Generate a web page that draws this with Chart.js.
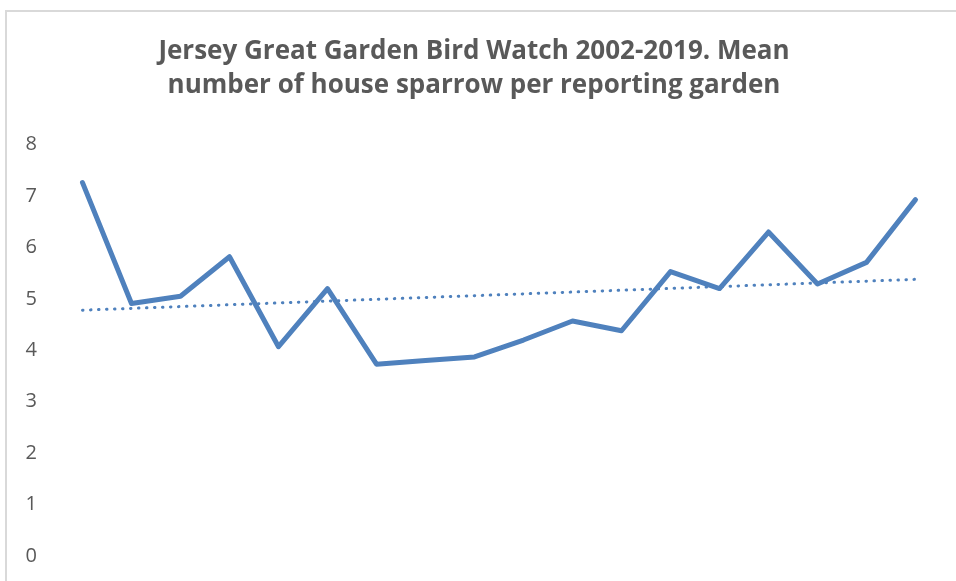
<!DOCTYPE html>
<html>
<head>
<meta charset="utf-8">
<script src="https://cdn.jsdelivr.net/npm/chart.js@4/dist/chart.umd.min.js"></script>
<style>
  html, body { margin: 0; padding: 0; background: #fff; overflow: hidden; }
  #frame {
    position: absolute; left: 5px; top: 10px; width: 1000px; height: 700px;
    border-left: 2px solid #d9d9d9; border-top: 2px solid #d9d9d9;
  }
  #wrap { position: absolute; left: 0; top: 0; width: 956px; height: 581px; }
</style>
</head>
<body>
<div id="frame"></div>
<div id="wrap"><canvas id="chart"></canvas></div>
<script>
// 2002-2019 のカテゴリ
const years = ['2002','2003','2004','2005','2006','2007','2008','2009','2010',
               '2011','2012','2013','2014','2015','2016','2017','2018','2019'];
const sparrowMean = [7.26, 4.91, 5.05, 5.82, 4.07, 5.20, 3.73, 3.80, 3.87,
                     4.20, 4.57, 4.38, 5.53, 5.20, 6.30, 5.29, 5.71, 6.93];
// trendline ends
const trendLine = [4.78, null, null, null, null, null, null, null, null,
                   null, null, null, null, null, null, null, null, 5.38];
const yTicks = [0, 1, 2, 3, 4, 5, 6, 7, 8];

const blue = '#4f81bd';
const grey = '#595959';

new Chart(document.getElementById('chart'), {
    type: 'line',
    data: {
        labels: years,
        datasets: [{
            label: 'House sparrow',
            data: sparrowMean,
            borderColor: blue,
            borderWidth: 5,
            borderJoinStyle: 'round',
            borderCapStyle: 'round',
            pointRadius: 0,
            tension: 0
        }, {
            label: 'Linear trend',
            data: trendLine,
            spanGaps: true,
            borderColor: blue,
            borderWidth: 3,
            borderDash: [0.5, 7.5],
            borderCapStyle: 'round',
            pointRadius: 0
        }]
    },
    options: {
        responsive: true,
        maintainAspectRatio: false,
        animation: false,
        layout: { padding: { left: 8, right: 16, bottom: 12, top: 0 } },
        plugins: {
            legend: { display: false },
            tooltip: { enabled: false },
            title: {
                display: true,
                text: ['Jersey Great Garden Bird Watch 2002-2019. Mean',
                       'number of house sparrow per reporting garden'],
                color: grey,
                font: { family: 'Open Sans', size: 26, weight: 'bold', lineHeight: 1.3 },
                padding: { top: 35, bottom: 42 }
            }
        },
        scales: {
            x: {
                display: false,
                offset: true
            },
            y: {
                min: 0, max: 8,
                afterBuildTicks: s => { s.ticks = yTicks.map(v => ({ value: v })); },
                afterFit: s => { s.width = 50; },
                grid: { display: false },
                border: { display: false },
                ticks: {
                    color: grey,
                    padding: 13,
                    font: { family: 'Open Sans', size: 20 }
                }
            }
        }
    }
});
</script>
</body>
</html>
